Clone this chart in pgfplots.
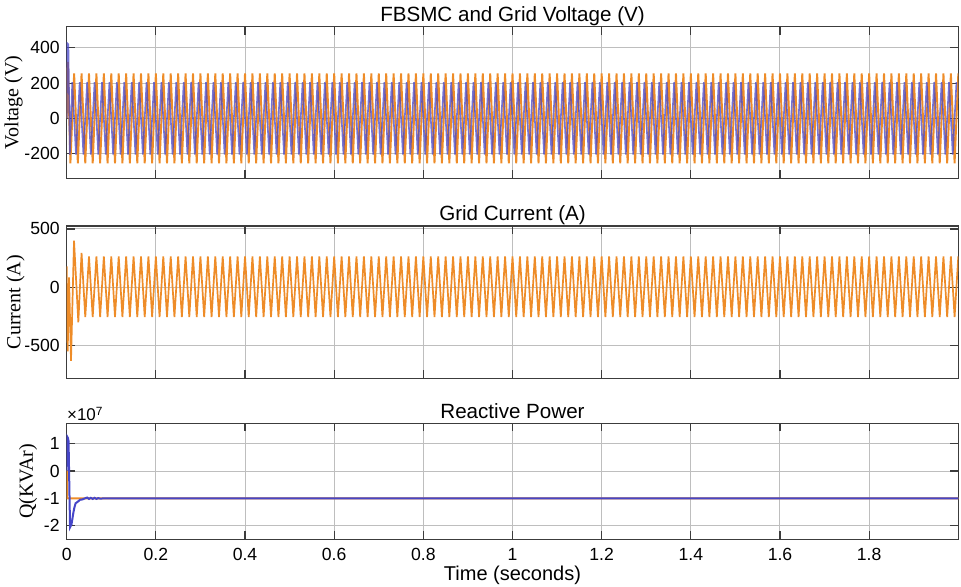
\documentclass[border=0pt]{standalone}
\usepackage{pgfplots}
\pgfplotsset{compat=1.18}
\usepackage{pgfplotstable}
\usepackage{fontspec}
\setmainfont{Liberation Sans}
\newfontfamily\timesf{Liberation Serif}
\definecolor{mo}{RGB}{238,140,40}
\definecolor{mb}{RGB}{70,70,200}
\definecolor{gridc}{RGB}{190,190,190}
\definecolor{axc}{RGB}{60,60,60}

% x in half-periods of the 60 Hz wave (240 = 2 s)
\pgfplotstableread[row sep=\\]{x y\\
0 0\\0.3 320\\
1 -255\\2 255\\3 -255\\4 255\\5 -255\\6 255\\7 -255\\8 255\\9 -255\\10 255\\
11 -255\\12 255\\13 -255\\14 255\\15 -255\\16 255\\17 -255\\18 255\\19 -255\\20 255\\
21 -255\\22 255\\23 -255\\24 255\\25 -255\\26 255\\27 -255\\28 255\\29 -255\\30 255\\
31 -255\\32 255\\33 -255\\34 255\\35 -255\\36 255\\37 -255\\38 255\\39 -255\\40 255\\
41 -255\\42 255\\43 -255\\44 255\\45 -255\\46 255\\47 -255\\48 255\\49 -255\\50 255\\
51 -255\\52 255\\53 -255\\54 255\\55 -255\\56 255\\57 -255\\58 255\\59 -255\\60 255\\
61 -255\\62 255\\63 -255\\64 255\\65 -255\\66 255\\67 -255\\68 255\\69 -255\\70 255\\
71 -255\\72 255\\73 -255\\74 255\\75 -255\\76 255\\77 -255\\78 255\\79 -255\\80 255\\
81 -255\\82 255\\83 -255\\84 255\\85 -255\\86 255\\87 -255\\88 255\\89 -255\\90 255\\
91 -255\\92 255\\93 -255\\94 255\\95 -255\\96 255\\97 -255\\98 255\\99 -255\\100 255\\
101 -255\\102 255\\103 -255\\104 255\\105 -255\\106 255\\107 -255\\108 255\\109 -255\\110 255\\
111 -255\\112 255\\113 -255\\114 255\\115 -255\\116 255\\117 -255\\118 255\\119 -255\\120 255\\
121 -255\\122 255\\123 -255\\124 255\\125 -255\\126 255\\127 -255\\128 255\\129 -255\\130 255\\
131 -255\\132 255\\133 -255\\134 255\\135 -255\\136 255\\137 -255\\138 255\\139 -255\\140 255\\
141 -255\\142 255\\143 -255\\144 255\\145 -255\\146 255\\147 -255\\148 255\\149 -255\\150 255\\
151 -255\\152 255\\153 -255\\154 255\\155 -255\\156 255\\157 -255\\158 255\\159 -255\\160 255\\
161 -255\\162 255\\163 -255\\164 255\\165 -255\\166 255\\167 -255\\168 255\\169 -255\\170 255\\
171 -255\\172 255\\173 -255\\174 255\\175 -255\\176 255\\177 -255\\178 255\\179 -255\\180 255\\
181 -255\\182 255\\183 -255\\184 255\\185 -255\\186 255\\187 -255\\188 255\\189 -255\\190 255\\
191 -255\\192 255\\193 -255\\194 255\\195 -255\\196 255\\197 -255\\198 255\\199 -255\\200 255\\
201 -255\\202 255\\203 -255\\204 255\\205 -255\\206 255\\207 -255\\208 255\\209 -255\\210 255\\
211 -255\\212 255\\213 -255\\214 255\\215 -255\\216 255\\217 -255\\218 255\\219 -255\\220 255\\
221 -255\\222 255\\223 -255\\224 255\\225 -255\\226 255\\227 -255\\228 255\\229 -255\\230 255\\
231 -255\\232 255\\233 -255\\234 255\\235 -255\\236 255\\237 -255\\238 255\\239 -255\\240 255\\
}\vgrid

\pgfplotstableread[row sep=\\]{x y\\
0 0\\0.2 425\\0.45 420\\0.85 -205\\
1.5 205\\2.5 -205\\3.5 205\\4.5 -205\\5.5 205\\6.5 -205\\7.5 205\\8.5 -205\\9.5 205\\10.5 -205\\
11.5 205\\12.5 -205\\13.5 205\\14.5 -205\\15.5 205\\16.5 -205\\17.5 205\\18.5 -205\\19.5 205\\20.5 -205\\
21.5 205\\22.5 -205\\23.5 205\\24.5 -205\\25.5 205\\26.5 -205\\27.5 205\\28.5 -205\\29.5 205\\30.5 -205\\
31.5 205\\32.5 -205\\33.5 205\\34.5 -205\\35.5 205\\36.5 -205\\37.5 205\\38.5 -205\\39.5 205\\40.5 -205\\
41.5 205\\42.5 -205\\43.5 205\\44.5 -205\\45.5 205\\46.5 -205\\47.5 205\\48.5 -205\\49.5 205\\50.5 -205\\
51.5 205\\52.5 -205\\53.5 205\\54.5 -205\\55.5 205\\56.5 -205\\57.5 205\\58.5 -205\\59.5 205\\60.5 -205\\
61.5 205\\62.5 -205\\63.5 205\\64.5 -205\\65.5 205\\66.5 -205\\67.5 205\\68.5 -205\\69.5 205\\70.5 -205\\
71.5 205\\72.5 -205\\73.5 205\\74.5 -205\\75.5 205\\76.5 -205\\77.5 205\\78.5 -205\\79.5 205\\80.5 -205\\
81.5 205\\82.5 -205\\83.5 205\\84.5 -205\\85.5 205\\86.5 -205\\87.5 205\\88.5 -205\\89.5 205\\90.5 -205\\
91.5 205\\92.5 -205\\93.5 205\\94.5 -205\\95.5 205\\96.5 -205\\97.5 205\\98.5 -205\\99.5 205\\100.5 -205\\
101.5 205\\102.5 -205\\103.5 205\\104.5 -205\\105.5 205\\106.5 -205\\107.5 205\\108.5 -205\\109.5 205\\110.5 -205\\
111.5 205\\112.5 -205\\113.5 205\\114.5 -205\\115.5 205\\116.5 -205\\117.5 205\\118.5 -205\\119.5 205\\120.5 -205\\
121.5 205\\122.5 -205\\123.5 205\\124.5 -205\\125.5 205\\126.5 -205\\127.5 205\\128.5 -205\\129.5 205\\130.5 -205\\
131.5 205\\132.5 -205\\133.5 205\\134.5 -205\\135.5 205\\136.5 -205\\137.5 205\\138.5 -205\\139.5 205\\140.5 -205\\
141.5 205\\142.5 -205\\143.5 205\\144.5 -205\\145.5 205\\146.5 -205\\147.5 205\\148.5 -205\\149.5 205\\150.5 -205\\
151.5 205\\152.5 -205\\153.5 205\\154.5 -205\\155.5 205\\156.5 -205\\157.5 205\\158.5 -205\\159.5 205\\160.5 -205\\
161.5 205\\162.5 -205\\163.5 205\\164.5 -205\\165.5 205\\166.5 -205\\167.5 205\\168.5 -205\\169.5 205\\170.5 -205\\
171.5 205\\172.5 -205\\173.5 205\\174.5 -205\\175.5 205\\176.5 -205\\177.5 205\\178.5 -205\\179.5 205\\180.5 -205\\
181.5 205\\182.5 -205\\183.5 205\\184.5 -205\\185.5 205\\186.5 -205\\187.5 205\\188.5 -205\\189.5 205\\190.5 -205\\
191.5 205\\192.5 -205\\193.5 205\\194.5 -205\\195.5 205\\196.5 -205\\197.5 205\\198.5 -205\\199.5 205\\200.5 -205\\
201.5 205\\202.5 -205\\203.5 205\\204.5 -205\\205.5 205\\206.5 -205\\207.5 205\\208.5 -205\\209.5 205\\210.5 -205\\
211.5 205\\212.5 -205\\213.5 205\\214.5 -205\\215.5 205\\216.5 -205\\217.5 205\\218.5 -205\\219.5 205\\220.5 -205\\
221.5 205\\222.5 -205\\223.5 205\\224.5 -205\\225.5 205\\226.5 -205\\227.5 205\\228.5 -205\\229.5 205\\230.5 -205\\
231.5 205\\232.5 -205\\233.5 205\\234.5 -205\\235.5 205\\236.5 -205\\237.5 205\\238.5 -205\\239.5 205\\
}\vfb

\pgfplotstableread[row sep=\\]{x y\\
0 180\\0.27 -550\\0.63 85\\1.16 -630\\1.97 400\\3.13 -300\\4 295\\5 -255\\6 265\\7 -255\\8 265\\9 -255\\10 265\\
11 -255\\12 265\\13 -255\\14 265\\15 -255\\16 265\\17 -255\\18 265\\19 -255\\20 265\\
21 -255\\22 265\\23 -255\\24 265\\25 -255\\26 265\\27 -255\\28 265\\29 -255\\30 265\\
31 -255\\32 265\\33 -255\\34 265\\35 -255\\36 265\\37 -255\\38 265\\39 -255\\40 265\\
41 -255\\42 265\\43 -255\\44 265\\45 -255\\46 265\\47 -255\\48 265\\49 -255\\50 265\\
51 -255\\52 265\\53 -255\\54 265\\55 -255\\56 265\\57 -255\\58 265\\59 -255\\60 265\\
61 -255\\62 265\\63 -255\\64 265\\65 -255\\66 265\\67 -255\\68 265\\69 -255\\70 265\\
71 -255\\72 265\\73 -255\\74 265\\75 -255\\76 265\\77 -255\\78 265\\79 -255\\80 265\\
81 -255\\82 265\\83 -255\\84 265\\85 -255\\86 265\\87 -255\\88 265\\89 -255\\90 265\\
91 -255\\92 265\\93 -255\\94 265\\95 -255\\96 265\\97 -255\\98 265\\99 -255\\100 265\\
101 -255\\102 265\\103 -255\\104 265\\105 -255\\106 265\\107 -255\\108 265\\109 -255\\110 265\\
111 -255\\112 265\\113 -255\\114 265\\115 -255\\116 265\\117 -255\\118 265\\119 -255\\120 265\\
121 -255\\122 265\\123 -255\\124 265\\125 -255\\126 265\\127 -255\\128 265\\129 -255\\130 265\\
131 -255\\132 265\\133 -255\\134 265\\135 -255\\136 265\\137 -255\\138 265\\139 -255\\140 265\\
141 -255\\142 265\\143 -255\\144 265\\145 -255\\146 265\\147 -255\\148 265\\149 -255\\150 265\\
151 -255\\152 265\\153 -255\\154 265\\155 -255\\156 265\\157 -255\\158 265\\159 -255\\160 265\\
161 -255\\162 265\\163 -255\\164 265\\165 -255\\166 265\\167 -255\\168 265\\169 -255\\170 265\\
171 -255\\172 265\\173 -255\\174 265\\175 -255\\176 265\\177 -255\\178 265\\179 -255\\180 265\\
181 -255\\182 265\\183 -255\\184 265\\185 -255\\186 265\\187 -255\\188 265\\189 -255\\190 265\\
191 -255\\192 265\\193 -255\\194 265\\195 -255\\196 265\\197 -255\\198 265\\199 -255\\200 265\\
201 -255\\202 265\\203 -255\\204 265\\205 -255\\206 265\\207 -255\\208 265\\209 -255\\210 265\\
211 -255\\212 265\\213 -255\\214 265\\215 -255\\216 265\\217 -255\\218 265\\219 -255\\220 265\\
221 -255\\222 265\\223 -255\\224 265\\225 -255\\226 265\\227 -255\\228 265\\229 -255\\230 265\\
231 -255\\232 265\\233 -255\\234 265\\235 -255\\236 265\\237 -255\\238 265\\239 -255\\240 265\\
}\igrid

\pgfplotstableread[row sep=\\]{x y\\
0 0\\0.05 1.28\\0.3 1.22\\0.5 1.1\\0.9 -2.06\\1.3 -1.95\\1.8 -1.52\\2.1 -1.32\\2.4 -1.18\\3 -1.12\\3.6 -1.05\\4.2 -1.04\\4.9 -1.0\\
5.5 -0.97\\6 -1.02\\6.5 -0.98\\7 -1.02\\7.5 -0.98\\8 -1.02\\8.5 -0.99\\9 -1.01\\10 -1\\240 -1\\
}\qfb

\pgfplotstableread[row sep=\\]{x y\\
0 0\\0.1 0\\0.12 -1\\240 -1\\
}\qgrid

\newcommand{\ylab}[2]{\node[xshift=-#1, rotate=90, anchor=center, inner sep=0pt, font=\timesf\fontsize{10}{12}\selectfont] at (rel axis cs:0,0.5) {#2};}
\newcommand{\tlab}[1]{\node[yshift=2.6pt, anchor=base, inner sep=0pt, font=\fontsize{10.3}{12}\selectfont] at (rel axis cs:0.5,1) {#1};}

\pgfplotsset{
 mystyle/.style={
  scale only axis, width=445.8pt,
  xmin=0, xmax=240,
  xtick={0,24,...,216},
  grid=major, major grid style={gridc, line width=0.5pt},
  axis line style={axc, line width=0.6pt},
  tick align=inside, tick pos=both,
  major tick length=4pt,
  tick style={axc, line width=0.6pt},
  ticklabel style={font=\fontsize{8.8}{10}\selectfont},
  /pgf/number format/assume math mode=true,
  clip mode=individual,
  anchor=north west,
 }
}

\begin{document}
\begin{tikzpicture}
\useasboundingbox (0,0) rectangle (480.5pt,-293.5pt);

\begin{axis}[mystyle, at={(33.35pt,-13.35pt)}, height=75.8pt,
  ymin=-340, ymax=520, ytick={-200,0,200,400},
  xticklabels={},
  after end axis/.code={\tlab{FBSMC and Grid Voltage (V)}\ylab{26.6pt}{Voltage (V)}}]
\addplot[mo, line width=0.95pt] table {\vgrid};
\addplot[mb, line width=0.8pt, opacity=0.75] table {\vfb};
\end{axis}

\begin{axis}[mystyle, at={(33.35pt,-113pt)}, height=76.15pt,
  ymin=-780, ymax=525, ytick={-500,0,500},
  xticklabels={},
  after end axis/.code={\tlab{Grid Current (A)}\ylab{25.6pt}{Current (A)}}]
\addplot[mo, line width=0.85pt] table {\igrid};
\end{axis}

\begin{axis}[mystyle, at={(33.35pt,-211.65pt)}, height=58pt,
  ymin=-2.5, ymax=1.75, ytick={-2,-1,0,1},
  xticklabels={0,0.2,0.4,0.6,0.8,1,1.2,1.4,1.6,1.8},
  xticklabel style={anchor=base, yshift=-10.6pt},
  xlabel={Time (seconds)},
  xlabel style={font=\fontsize{10}{12}\selectfont, at={(rel axis cs:0.5,0)}, anchor=base, yshift=-20.5pt},
  after end axis/.code={\tlab{Reactive Power}\ylab{19.3pt}{Q(KVAr)}\node[anchor=south west, inner sep=0pt, font=\fontsize{8.5}{9}\selectfont] at (rel axis cs:0,1) [yshift=1pt] {×10\textsuperscript{7}};}]
\addplot[mo, line width=0.9pt] table {\qgrid};
\addplot[mb, line width=1pt] table {\qfb};
\end{axis}
\end{tikzpicture}
\end{document}
